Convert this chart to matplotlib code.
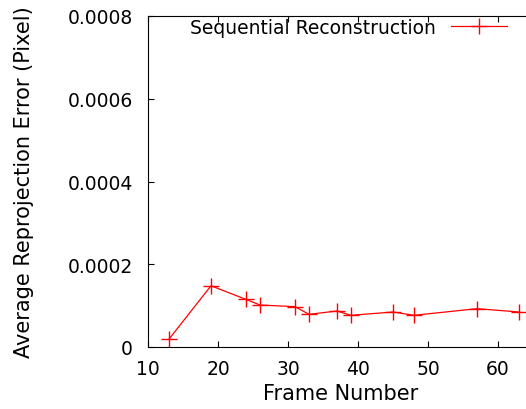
import matplotlib
matplotlib.use("Agg")
import matplotlib.pyplot as plt

frames = [13, 19, 24, 26, 31, 33, 37, 39, 45, 48, 57, 63]
errors = [0.000019, 0.000148, 0.000115, 0.0001015, 0.0000975, 0.000079,
          0.000087, 0.0000766, 0.0000846, 0.0000766, 0.0000926, 0.0000846]
xticks = [10, 20, 30, 40, 50, 60]
yticks = [0, 0.0002, 0.0004, 0.0006, 0.0008]
ylabels = ["0", "0.0002", "0.0004", "0.0006", "0.0008"]

fig = plt.figure(figsize=(5.26, 4.10), dpi=100)
# axes run past the right edge of the picture, like the cropped original
ax = fig.add_axes([148 / 526, 1 - 348 / 410, 385 / 526, 331 / 410])

ax.plot(frames, errors, color="red", lw=0.9, marker="+", ms=11, mew=1,
        label="Sequential Reconstruction")

ax.set_xlim(10, 65)
ax.set_ylim(0, 0.0008)
ax.set_xticks(xticks)
ax.set_yticks(yticks)
ax.set_yticklabels(ylabels)
ax.tick_params(direction="in", top=True, right=True, length=4, labelsize=13.5)
ax.tick_params(axis="x", pad=9)
ax.tick_params(axis="y", pad=11)
ax.set_xlabel("Frame Number", fontsize=15, labelpad=3)
ax.set_ylabel("Average Reprojection Error (Pixel)", fontsize=15, labelpad=24)

ax.legend(loc="upper right", frameon=False, fontsize=13.5, markerfirst=False,
          handlelength=3.0, handletextpad=0.8, borderpad=0, borderaxespad=0,
          bbox_to_anchor=(507 / 526, 1 - 19 / 410),
          bbox_transform=fig.transFigure)

fig.savefig("out.png", dpi=100)
